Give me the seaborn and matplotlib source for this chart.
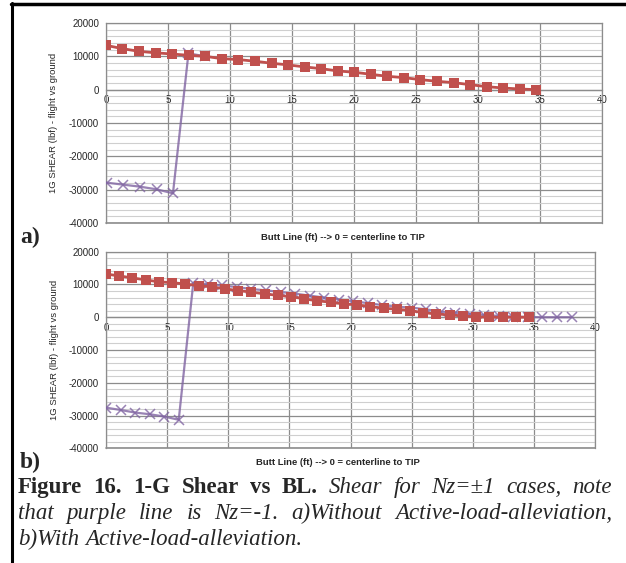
import matplotlib
matplotlib.use("Agg")
import matplotlib.pyplot as plt
from matplotlib.ticker import MultipleLocator
from matplotlib.lines import Line2D
import seaborn as sns

# data
# a) without active load alleviation
red_a_x = [0.0, 1.33, 2.67, 4.0, 5.34, 6.67, 8.01, 9.34, 10.68, 12.01, 13.35, 14.68, 16.02, 17.35,
           18.69, 20.02, 21.35, 22.69, 24.02, 25.36, 26.69, 28.03, 29.36, 30.7, 32.03, 33.37, 34.7]
red_a_y = [13300, 12300, 11500, 11050, 10700, 10300, 10000, 9300, 9030, 8530, 7930, 7430, 6830, 6300,
           5620, 5220, 4620, 4010, 3610, 3010, 2510, 2110, 1500, 900, 500, 200, 0]
purple_a_x = [0.05, 1.4, 2.74, 4.09, 5.4, 6.65, 8.0]
purple_a_y = [-27900, -28500, -29100, -29900, -31100, 10900, 10000]

# b) with active load alleviation
red_b_x = [0, 1.08, 2.16, 3.24, 4.33, 5.41, 6.49, 7.57, 8.65, 9.73, 10.81, 11.89, 12.98, 14.06, 15.14,
           16.22, 17.3, 18.38, 19.46, 20.54, 21.63, 22.71, 23.79, 24.87, 25.95, 27.03, 28.11, 29.19,
           30.28, 31.36, 32.44, 33.52, 34.6]
red_b_y = [13200, 12600, 12000, 11400, 10800, 10550, 10150, 9600, 9300, 8650, 8150, 7650, 7150, 6650,
           6300, 5600, 5000, 4600, 4100, 3750, 3250, 2750, 2450, 2030, 1400, 1000, 700, 400, 100,
           0, 0, 0, 0]
purple_b_x = [0, 1.19, 2.38, 3.57, 4.76, 5.95, 7.14, 8.33, 9.52, 10.71, 11.9, 13.09, 14.28, 15.47,
              16.66, 17.85, 19.04, 20.23, 21.42, 22.61, 23.8, 24.99, 26.18, 27.37, 28.56, 29.75,
              30.94, 32.13, 33.32, 34.51, 35.7, 36.89, 38.08]
purple_b_y = [-27600, -28300, -29100, -29600, -30300, -31300, 10500, 10100, 9700, 9200, 8600, 8200,
              7700, 7200, 6600, 6000, 5400, 4900, 4300, 3700, 3200, 2950, 2400, 1700, 1400, 1000,
              700, 400, 200, 80, 0, 0, 0]

x_ticks = [0, 5, 10, 15, 20, 25, 30, 35, 40]
y_ticks = [-40000, -30000, -20000, -10000, 0, 10000, 20000]

RED = "#c0504d"
PURPLE = "#8064a2"

sns.set_style("white")
plt.rcParams["font.family"] = ["Liberation Sans", "DejaVu Sans"]

fig = plt.figure(figsize=(6.26, 5.63), dpi=100)
W, H = 626, 563


def panel(rect, rx, ry, px, py, xlab_pos):
    ax = fig.add_axes(rect)
    sns.lineplot(x=px, y=py, ax=ax, color=PURPLE, marker="x", markersize=7,
                 markeredgewidth=1.1, markeredgecolor=PURPLE, linewidth=1.6,
                 estimator=None, sort=False, alpha=0.8, zorder=3)
    sns.lineplot(x=rx, y=ry, ax=ax, color=RED, marker="s", markersize=7.3,
                 markeredgewidth=0, linewidth=2.0, estimator=None, sort=False, zorder=4)
    ax.set_xlim(0, 40)
    ax.set_ylim(-40000, 20000)
    ax.set_xticks(x_ticks)
    ax.set_yticks(y_ticks)
    ax.set_yticklabels([str(v) for v in y_ticks])
    ax.yaxis.set_minor_locator(MultipleLocator(2000))
    ax.grid(which="major", color="#8c8c8c", lw=0.9)
    ax.grid(which="minor", axis="y", color="#cfcfcf", lw=0.8)
    ax.tick_params(which="minor", length=0)
    ax.tick_params(axis="y", length=3, width=0.8, color="#8c8c8c", labelsize=7, pad=2)
    ax.tick_params(axis="x", length=0, labelsize=7, pad=4)
    ax.spines["bottom"].set_position(("data", 0))
    for s in ax.spines.values():
        s.set_color("#8c8c8c")
        s.set_linewidth(0.9)
    ax.axhline(-40000, color="#8c8c8c", lw=1.2, clip_on=False)
    ax.set_xlabel("Butt Line (ft) --> 0 = centerline to TIP", fontsize=6.8, fontweight="bold")
    ax.set_ylabel("1G SHEAR (lbf) - flight vs ground", fontsize=6.8)
    ax.xaxis.set_label_coords(*xlab_pos)
    ax.yaxis.set_label_coords(-0.097, 0.5)
    return ax


ax_a = panel([106 / W, 1 - 223 / H, 496 / W, 200 / H], red_a_x, red_a_y, purple_a_x, purple_a_y,
             (0.478, -0.05))
ax_b = panel([106 / W, 1 - 448.3 / H, 489 / W, 196.6 / H], red_b_x, red_b_y, purple_b_x, purple_b_y,
             (0.474, -0.05))

serif = ["Liberation Serif", "DejaVu Serif"]
fig.text(20 / W, 1 - 243 / H, "a)", fontsize=17, fontweight="bold", family=serif)
fig.text(20 / W, 1 - 468 / H, "b)", fontsize=17, fontweight="bold", family=serif)

# frame lines (top and left)
fig.add_artist(Line2D([12 / W, 12 / W], [0, 1 - 3 / H], color="black", lw=2.2))
fig.add_artist(Line2D([11 / W, 1], [1 - 4 / H, 1 - 4 / H], color="black", lw=2.5))

# caption, justified lines
renderer = fig.canvas.get_renderer()
CAP_FS = 16.5


def caption_line(words, y_px, x0, x1, justify=True):
    arts = []
    for w, wt, st in words:
        arts.append(fig.text(0, 1 - y_px / H, w, fontsize=CAP_FS, family=serif, fontweight=wt,
                             style=st, va="baseline", ha="left"))
    widths = [t.get_window_extent(renderer).width for t in arts]
    space = CAP_FS * 0.25 * 100 / 72
    if justify and len(arts) > 1:
        gap = max((x1 - x0 - sum(widths)) / (len(arts) - 1), space * 0.6)
    else:
        gap = space
    x = x0
    for t, w in zip(arts, widths):
        t.set_x(x / W)
        x += w + gap


B, I = ("bold", "normal"), ("normal", "italic")
line1 = [(w,) + B for w in "Figure 16. 1-G Shear vs BL.".split()] + \
        [(w,) + I for w in "Shear for Nz=±1 cases, note".split()]
line2 = [(w,) + I for w in "that purple line is Nz=-1. a)Without Active-load-alleviation,".split()]
line3 = [(w,) + I for w in "b)With Active-load-alleviation.".split()]
caption_line(line1, 493, 18, 612)
caption_line(line2, 519, 18, 612)
caption_line(line3, 545, 18, 612, justify=False)

fig.savefig("out.png", dpi=100)
